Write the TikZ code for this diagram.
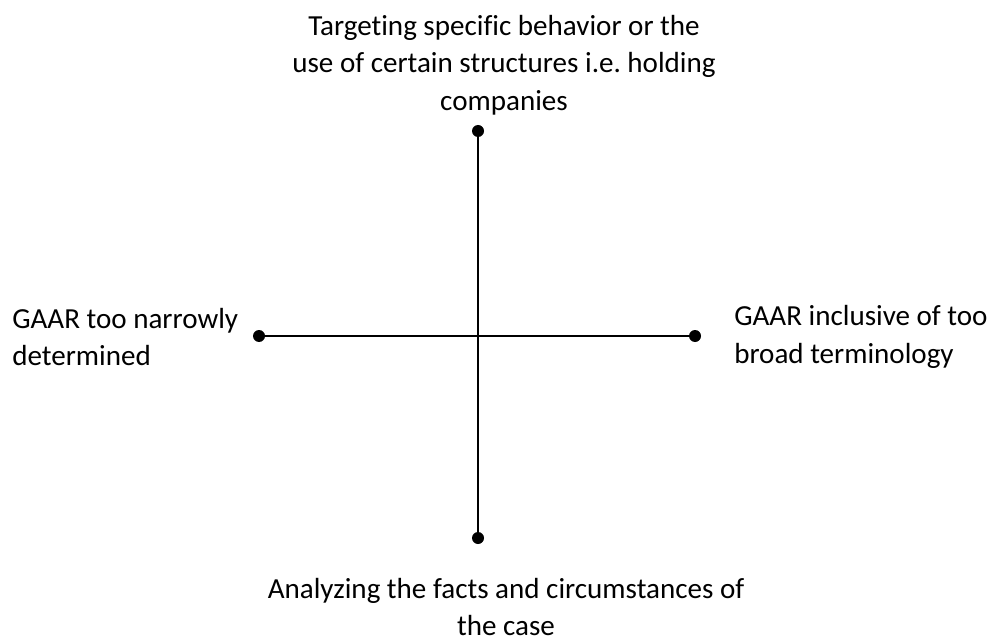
\documentclass[tikz,border=0pt]{standalone}
\usepackage{fontspec}
\setmainfont{Carlito}[Ligatures={NoCommon}]
\frenchspacing
\begin{document}
\begin{tikzpicture}[x=0.75pt,y=-0.75pt,
  lbl/.style={inner sep=0pt,align=center,font=\fontsize{21.8pt}{28pt}\selectfont},
  endpt/.style={circle,fill=black,inner sep=0pt,minimum size=9pt},
  axis/.style={line width=1.9pt}]
\useasboundingbox (0,0) rectangle (991,641);
\node[endpt] (t) at (478,131) {};
\node[endpt] (b) at (478,538) {};
\node[endpt] (l) at (259,336) {};
\node[endpt] (r) at (695,336) {};
\draw[axis] (t) -- (b);
\draw[axis] (l) -- (r);
\node[lbl] (tt) at (504,65) {Targeting specific behavior or the\\use of certain structures i.e. holding\\companies};
\node[lbl,align=left,anchor=west] (lt) at (12,337) {GAAR too narrowly\\determined};
\node[lbl,align=left,anchor=west] (rt) at (734,337) {GAAR inclusive of too\\broad terminology};
\node[lbl] (bt) at (506,607) {Analyzing the facts and circumstances of\\the case};
\end{tikzpicture}
\end{document}
